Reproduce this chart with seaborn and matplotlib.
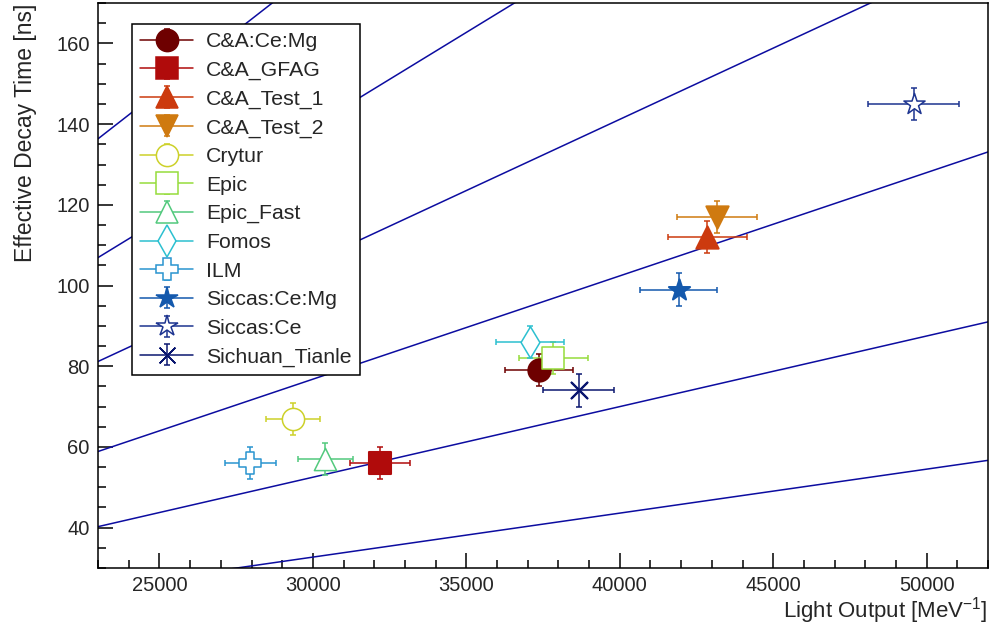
import numpy as np
import pandas as pd
import seaborn as sns
import matplotlib.pyplot as plt
from matplotlib.ticker import MultipleLocator

# crystal samples: light output vs effective decay time
names = ["C&A:Ce:Mg", "C&A_GFAG", "C&A_Test_1", "C&A_Test_2", "Crytur", "Epic",
         "Epic_Fast", "Fomos", "ILM", "Siccas:Ce:Mg", "Siccas:Ce", "Sichuan_Tianle"]
light_output = [37370, 32180, 42850, 43180, 29360, 37830, 30410, 37070, 27960, 41920, 49580, 38660]
light_err = [1120, 970, 1290, 1300, 880, 1130, 910, 1110, 840, 1260, 1490, 1160]
decay_time = [79, 56, 112, 117, 67, 82, 57, 86, 56, 99, 145, 74]
decay_err = [4, 4, 4, 4, 4, 4, 4, 4, 4, 4, 4, 4]

colors = ["#6e0000", "#b00b0b", "#cc3a0e", "#cf7a10", "#cdd12a", "#96dc3c",
          "#52c97d", "#2cc0d0", "#2a94d0", "#1459ad", "#1d3490", "#0b1770"]
markers = ["o", "s", "^", "v", "o", "s", "^", "d", "P", "*", "*", (4, 2, 45)]
filled = [True, True, True, True, False, False, False, False, False, True, False, True]

# lines of constant decay time / light output ratio
ref_slopes = [0.00109, 0.00175, 0.00256, 0.00353, 0.00465, 0.00593]
x_range = [23000, 52000]

sns.set_style("ticks")
plt.rcParams["font.family"] = ["Liberation Sans", "DejaVu Sans"]

fig = plt.figure(figsize=(9.91, 6.29), dpi=100)
ax = fig.add_axes([0.099, 0.097, 0.898, 0.898])

ref = pd.DataFrame(
    [(s, x, s * x) for s in ref_slopes for x in x_range],
    columns=["slope", "lo", "tau"],
)
sns.lineplot(data=ref, x="lo", y="tau", units="slope", estimator=None,
             color="#0c0ca0", lw=1.1, ax=ax, legend=False)

handles = []
for i, name in enumerate(names):
    face = colors[i] if filled[i] else "white"
    ax.errorbar(light_output[i], decay_time[i], xerr=light_err[i], yerr=decay_err[i],
                fmt="none", ecolor=colors[i], elinewidth=1.1, capsize=2.5, capthick=1.1,
                zorder=3)
    if isinstance(markers[i], tuple):
        sns.scatterplot(x=[light_output[i]], y=[decay_time[i]], marker=markers[i], s=16 ** 2,
                        color=colors[i], linewidth=1.5, ax=ax, zorder=4, legend=False)
    else:
        sns.scatterplot(x=[light_output[i]], y=[decay_time[i]], marker=markers[i], s=16 ** 2,
                        color=face, edgecolor=colors[i], linewidth=1.1 if not filled[i] else 1.5,
                        ax=ax, zorder=4, legend=False)
    lh = ax.errorbar([np.nan], [np.nan], yerr=[1], marker=markers[i], ls="-", lw=1.1,
                     color=colors[i], markerfacecolor=face, markeredgecolor=colors[i],
                     markersize=16, markeredgewidth=1.1, elinewidth=1.1, capsize=2.5,
                     capthick=1.1)
    handles.append(lh)

ax.set_xlim(23000, 52000)
ax.set_ylim(30, 170)
ax.set_xticks([25000, 30000, 35000, 40000, 45000, 50000])
ax.set_yticks([40, 60, 80, 100, 120, 140, 160])
ax.xaxis.set_minor_locator(MultipleLocator(1000))
ax.yaxis.set_minor_locator(MultipleLocator(5))
ax.tick_params(which="both", direction="in", labelsize=14.5, width=1.1, color="black")
ax.tick_params(which="major", length=11, pad=6)
ax.tick_params(which="minor", length=6)
for sp in ax.spines.values():
    sp.set_linewidth(1.1)
    sp.set_color("black")

ax.set_xlabel("Light Output [MeV$^{\\mathregular{-1}}$]", fontsize=16, loc="right", labelpad=0)
ax.set_ylabel("Effective Decay Time [ns]", fontsize=16.5, loc="top", labelpad=14)

leg = ax.legend(handles, names, loc="upper left", bbox_to_anchor=(0.038, 0.963),
                borderaxespad=0, fontsize=15.3, frameon=True, fancybox=False,
                edgecolor="black", framealpha=1, handlelength=2.5, handletextpad=0.6,
                labelspacing=0.45, borderpad=0.38)
leg.get_frame().set_linewidth(1.1)

fig.savefig("out.png", dpi=100)
